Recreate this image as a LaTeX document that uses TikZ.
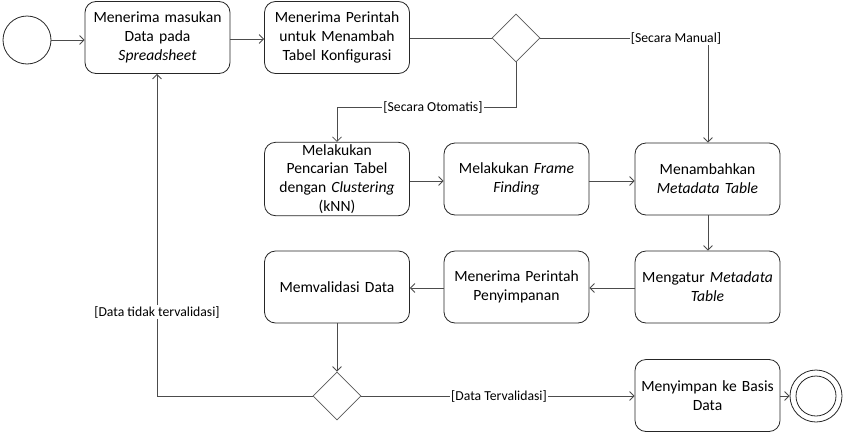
\documentclass[tikz,border=0pt]{standalone}
\usepackage{fontspec}
\setmainfont{Carlito}
\usetikzlibrary{arrows.meta,shapes.geometric}
\begin{document}
\begin{tikzpicture}[x=1pt,y=-1pt,
  line width=0.8pt,
  act/.style={draw=black!85, rounded corners=11pt, minimum width=143pt, minimum height=72pt, inner sep=2pt, align=center, text width=141pt, font=\fontsize{15.6}{18.8}\selectfont},
  dec/.style={draw=black!65, diamond, minimum width=48pt, minimum height=48pt, inner sep=0pt},
  flow/.style={draw=black!70, -{Straight Barb[length=4.5pt,width=9pt,line width=0.8pt]}},
  line/.style={draw=black!70},
  lbl/.style={fill=white, inner sep=1pt, font=\fontsize{13.7}{15}\selectfont}]
\useasboundingbox (0,0) rectangle (853,434);
\fill[white] (0,0) rectangle (853,434);
% nodes
\node[draw=black!85, circle, minimum size=48pt, inner sep=0pt] (start) at (27,40) {};
\node[act] (b1) at (157.5,37.5) {Menerima masukan\\Data pada\\\textit{Spreadsheet}};
\node[act] (b2) at (337,37.5) {Menerima Perintah\\untuk Menambah\\Tabel Konfigurasi};
\node[dec] (d1) at (516,38) {};
\node[act] (b3) at (337,179) {Melakukan\\Pencarian Tabel\\dengan \textit{Clustering}\\(kNN)};
\node[act] (b4) at (516.5,179) {Melakukan \textit{Frame}\\\textit{Finding}};
\node[act] (b5) at (707.5,179) {Menambahkan\\\textit{Metadata Table}};
\node[act] (b6) at (707.5,287) {Mengatur \textit{Metadata}\\\textit{Table}};
\node[act] (b7) at (516.5,287) {Menerima Perintah\\Penyimpanan};
\node[act] (b8) at (337,287) {Memvalidasi Data};
\node[dec] (d2) at (337,396) {};
\node[act] (b9) at (707.5,395.5) {Menyimpan ke Basis\\Data};
\node[draw=black!85, circle, minimum size=52pt, inner sep=0pt] (end) at (816,396) {};
\node[draw=black!85, circle, minimum size=40pt, inner sep=0pt] (endi) at (816,396) {};
% connectors
\draw[flow] (start) -- (b1.west |- start);
\draw[flow] (b1.east |- 0,39) -- (b2.west |- 0,39);
\draw[line] (b2.east |- d1) -- (d1.west);
\coordinate (c1) at (708,38);
\draw[flow] (d1.east) -- (c1) -- (b5.north -| c1);
\node[lbl] at (676,38) {[Secara Manual]};
\coordinate (c2) at (516,107);
\coordinate (c3) at (337,107);
\draw[flow] (d1.south) -- (c2) -- (c3) -- (b3.north -| c3);
\node[lbl] at (433,107) {[Secara Otomatis]};
\draw[flow] (b3.east |- 0,181) -- (b4.west |- 0,181);
\draw[flow] (b4.east |- 0,181) -- (b5.west |- 0,181);
\draw[flow] (b5.south -| c1) -- (b6.north -| c1);
\draw[flow] (b6.west |- 0,288) -- (b7.east |- 0,288);
\draw[flow] (b7.west |- 0,288) -- (b8.east |- 0,288);
\draw[flow] (b8.south -| c3) -- (d2.north);
\draw[flow] (d2.east) -- (b9.west |- d2);
\node[lbl] at (499,396) {[Data Tervalidasi]};
\coordinate (c4) at (157,396);
\draw[flow] (d2.west) -- (c4) -- (b1.south -| c4);
\node[lbl] at (157,312) {[Data tidak tervalidasi]};
\draw[flow] (b9.east |- end) -- (end.west);
\end{tikzpicture}
\end{document}
